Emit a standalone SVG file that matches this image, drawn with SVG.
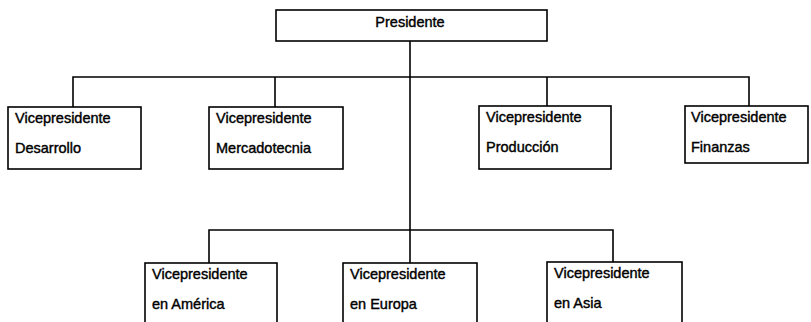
<svg xmlns="http://www.w3.org/2000/svg" width="811" height="322" viewBox="0 0 811 322">
<style>
.box{fill:#fff;stroke:#000;stroke-width:1.6}
.ln{fill:none;stroke:#000;stroke-width:1.6}
text{font-family:"Liberation Sans",Arial,sans-serif;font-size:14.5px;fill:#000;stroke:#000;stroke-width:0.4}
</style>
<rect width="811" height="322" fill="#fff"/>
<g id="connectors">
<path class="ln" d="M410 41V263"/>
<path class="ln" d="M73 107V77H749V106"/>
<path class="ln" d="M275 77V107"/>
<path class="ln" d="M547 77V106"/>
<path class="ln" d="M209 263V230H613V262"/>
</g>
<g id="presidente"><rect class="box" x="276" y="10" width="271" height="31"/><text x="410" y="27" text-anchor="middle">Presidente</text></g>
<g id="vp-desarrollo"><rect class="box" x="8" y="107" width="133" height="62"/><text x="15" y="123">Vicepresidente</text><text x="15" y="153">Desarrollo</text></g>
<g id="vp-mercadotecnia"><rect class="box" x="209" y="107" width="134" height="62"/><text x="216" y="123">Vicepresidente</text><text x="216" y="153">Mercadotecnia</text></g>
<g id="vp-produccion"><rect class="box" x="479" y="106" width="132" height="63"/><text x="486" y="122">Vicepresidente</text><text x="486" y="152">Producción</text></g>
<g id="vp-finanzas"><rect class="box" x="685" y="106" width="123" height="57"/><text x="691" y="122">Vicepresidente</text><text x="691" y="152">Finanzas</text></g>
<g id="vp-america"><rect class="box" x="145" y="263" width="132" height="70"/><text x="152" y="279">Vicepresidente</text><text x="152" y="309">en América</text></g>
<g id="vp-europa"><rect class="box" x="343" y="263" width="134" height="70"/><text x="350" y="279">Vicepresidente</text><text x="350" y="309">en Europa</text></g>
<g id="vp-asia"><rect class="box" x="547" y="262" width="135" height="70"/><text x="554" y="278">Vicepresidente</text><text x="554" y="308">en Asia</text></g>
</svg>
